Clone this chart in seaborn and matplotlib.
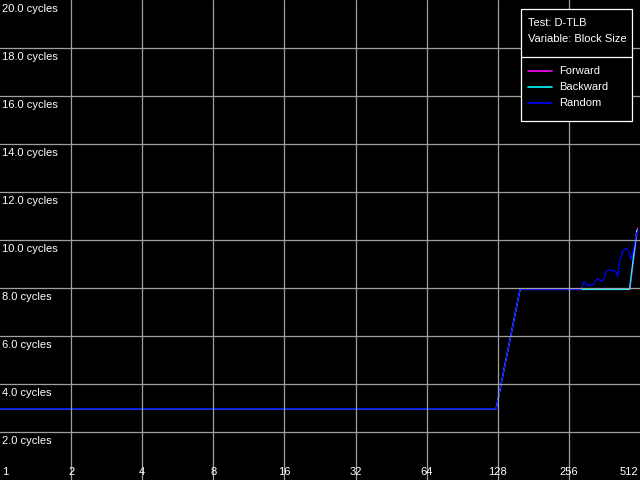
import pandas as pd
import matplotlib
matplotlib.use("Agg")
import matplotlib.pyplot as plt
import seaborn as sns
from matplotlib.patches import Rectangle
from matplotlib.lines import Line2D

# block size (KB) vs latency (cycles)
fwd_size = [1, 126, 159, 288, 464, 500]
fwd_cycles = [2.97, 2.97, 7.94, 7.94, 7.94, 10.5]

bwd_size = [1, 126, 159, 288, 462, 496]
bwd_cycles = [2.97, 2.97, 7.94, 7.94, 7.94, 10.4]

rnd_size = [1, 126, 159, 288, 297, 306, 325, 338, 349, 358, 370, 382, 395, 404,
            412, 418, 433, 447, 457, 468, 480, 488, 496, 501]
rnd_cycles = [2.97, 2.97, 7.94, 7.94, 8.28, 8.10, 8.15, 8.39, 8.30, 8.30, 8.71, 8.75,
              8.72, 8.70, 8.47, 9.03, 9.55, 9.65, 9.55, 9.19, 9.60, 10.0, 10.28, 10.35]

series = ["Forward", "Backward", "Random"]
colors = ["#ff00ff", "#00ffff", "#0000ff"]
x_ticks = [1, 2, 4, 8, 16, 32, 64, 128, 256, 512]
y_ticks = [2, 4, 6, 8, 10, 12, 14, 16, 18, 20]
info_lines = ["Test: D-TLB", "Variable: Block Size"]

df = pd.concat([
    pd.DataFrame({"size": fwd_size, "cycles": fwd_cycles, "test": "Forward"}),
    pd.DataFrame({"size": bwd_size, "cycles": bwd_cycles, "test": "Backward"}),
    pd.DataFrame({"size": rnd_size, "cycles": rnd_cycles, "test": "Random"}),
], ignore_index=True)

sns.set_style("dark")
plt.rcParams["font.family"] = ["Liberation Sans", "DejaVu Sans"]

fig = plt.figure(figsize=(6.4, 4.8), dpi=100, facecolor="black")
ax = fig.add_axes([0, 0, 1, 1])
ax.set_facecolor("black")

sns.lineplot(data=df, x="size", y="cycles", hue="test", hue_order=series,
             palette=colors, estimator=None, sort=False, legend=False,
             linewidth=0.9, ax=ax)

ax.set_xscale("log", base=2)
ax.set_xlim(1, 512)
ax.set_ylim(0, 20)
ax.set_xticks(x_ticks[1:-1])
ax.set_yticks(y_ticks[:-1])
ax.xaxis.set_minor_locator(matplotlib.ticker.NullLocator())
ax.tick_params(length=0, labelbottom=False, labelleft=False)
# grid is painted over the curves in the original
ax.set_axisbelow(False)
ax.grid(True, color="#a0a0a0", linewidth=0.9)
ax.set_xlabel("")
ax.set_ylabel("")
for s in ax.spines.values():
    s.set_visible(False)

# y labels inside the plot, just below each grid line
for v in y_ticks:
    ax.annotate(f"{v:.1f} cycles", xy=(0, v), xycoords=("axes fraction", "data"),
                xytext=(2, -4), textcoords="offset pixels", color="white",
                fontsize=8, ha="left", va="top", zorder=4)

# x labels along the bottom
for v in x_ticks:
    ha = "left" if v == 1 else ("right" if v == 512 else "center")
    dx = 2 if v == 1 else (-2 if v == 512 else 0)
    ax.annotate(str(v), xy=(v, 0), xycoords=("data", "axes fraction"),
                xytext=(dx, 3), textcoords="offset pixels", color="white",
                fontsize=8, ha=ha, va="bottom", zorder=4)

# info / legend box (figure pixels -> fractions)
def fx(x):
    return x / 640

def fy(y):
    return 1 - y / 480

fig.patches.append(Rectangle((fx(520.5), fy(120.5)), fx(632) - fx(520.5), fy(8.5) - fy(120.5),
                             transform=fig.transFigure, facecolor="black",
                             edgecolor="white", linewidth=0.9, zorder=5))
fig.lines.append(Line2D([fx(520.5), fx(632)], [fy(56.5), fy(56.5)],
                        transform=fig.transFigure, color="white", linewidth=0.9, zorder=6))
for i, t in enumerate(info_lines):
    fig.text(fx(528), fy(23 + 16 * i), t, color="white", fontsize=8,
             ha="left", va="center", zorder=7)
for i, (name, c) in enumerate(zip(series, colors)):
    yy = fy(70.5 + 16 * i)
    fig.lines.append(Line2D([fx(528), fx(552)], [yy, yy], transform=fig.transFigure,
                            color=c, linewidth=1.2, zorder=7))
    fig.text(fx(559), yy, name, color="white", fontsize=8, ha="left", va="center", zorder=7)

fig.savefig("out.png", dpi=100, facecolor="black")
